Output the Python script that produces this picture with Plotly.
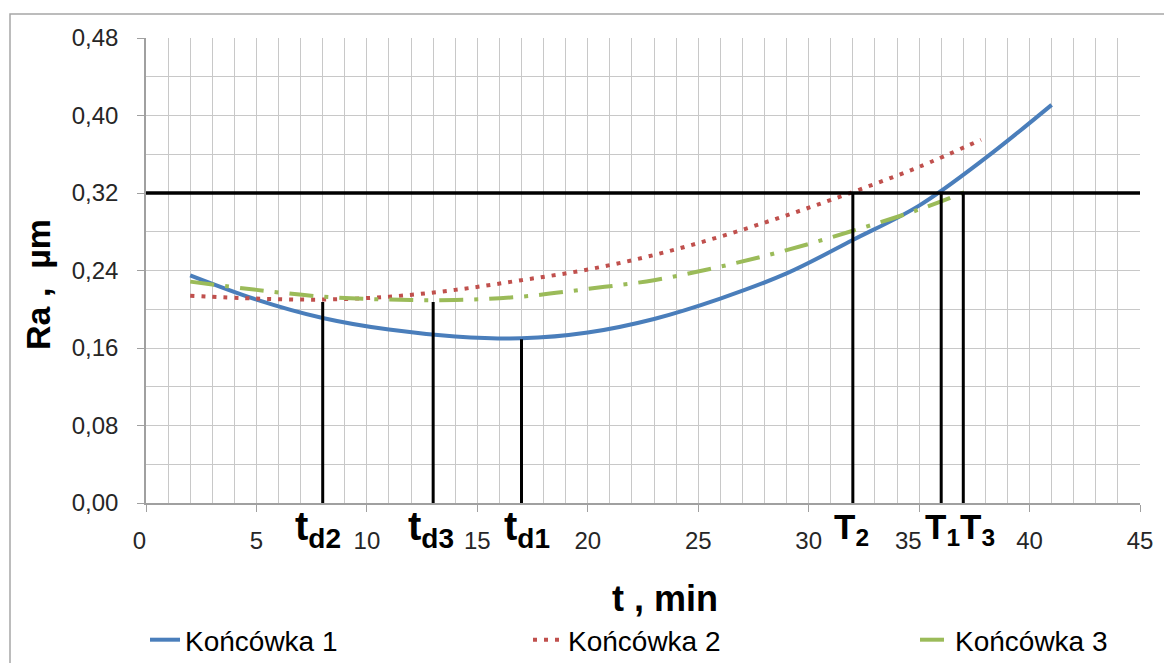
import plotly.graph_objects as go

# ---- data ----
t1 = [2, 5, 8, 11, 14, 17, 20, 23, 26, 29, 32, 35, 38, 41]
ra1 = [0.235, 0.210, 0.191, 0.179, 0.172, 0.170, 0.176, 0.190, 0.211, 0.237, 0.2715, 0.307, 0.356, 0.411]

t2 = [2, 5, 8, 11, 14, 17, 20, 23, 26, 29, 32, 35, 37.8]
ra2 = [0.214, 0.211, 0.210, 0.213, 0.220, 0.230, 0.241, 0.256, 0.275, 0.297, 0.321, 0.347, 0.375]

t3 = [2, 5, 8, 11, 14, 17, 20, 23, 26, 29, 32, 35, 37.5]
ra3 = [0.2285, 0.220, 0.213, 0.210, 0.2095, 0.213, 0.221, 0.230, 0.244, 0.261, 0.281, 0.303, 0.325]

series_names = ["Końcówka 1", "Końcówka 2", "Końcówka 3"]

ra_limit = 0.32
marker_t = [8, 13, 17, 32, 36, 37]
marker_top = [0.2075, 0.2075, 0.169, 0.32, 0.32, 0.32]
marker_labels = ["t<sub>d2</sub>", "t<sub>d3</sub>", "t<sub>d1</sub>",
                 "T<sub>2</sub>", "T<sub>1</sub>", "T<sub>3</sub>"]

x_ticks = [0, 5, 10, 15, 20, 25, 30, 35, 40, 45]
y_ticks = [0.00, 0.08, 0.16, 0.24, 0.32, 0.40, 0.48]

FONT = "Liberation Sans, Arial, sans-serif"
NB = "\u00a0"
GRID = "#c8c8c8"

# label pixel offsets / sizes (style only)
label_shift = [-5, -2, 5, -1, 1, 14]
label_size = [40, 40, 40, 35, 35, 35]

fig = go.Figure()

colors = ["#4a7ebb", "#c0504d", "#9bbb59"]
dashes = ["solid", "4px,7px", "24px,11px,4px,11px"]
widths = [4, 4, 4]
legend_ids = ["legend", "legend2", "legend3"]
for xs, ys, nm, c, d, w, lg in zip([t1, t2, t3], [ra1, ra2, ra3], series_names,
                                   colors, dashes, widths, legend_ids):
    fig.add_trace(go.Scatter(x=xs, y=ys, name=nm, mode="lines", legend=lg,
                             line=dict(color=c, width=w, dash=d, shape="spline")))

# horizontal limit line
fig.add_shape(type="line", xref="x", yref="y", x0=0, x1=45, y0=ra_limit, y1=ra_limit,
              line=dict(color="black", width=3.5), layer="above")
# vertical marker lines
for xv, top in zip(marker_t, marker_top):
    fig.add_shape(type="line", xref="x", yref="y", x0=xv, x1=xv, y0=0, y1=top,
                  line=dict(color="black", width=3), layer="above")

for xv, lab, sh, sz in zip(marker_t, marker_labels, label_shift, label_size):
    fig.add_annotation(x=xv, y=0, xref="x", yref="y", text="<b>" + lab + "</b>",
                       showarrow=False, xshift=sh, yshift=-26,
                       xanchor="center", yanchor="middle",
                       font=dict(family=FONT, size=sz, color="black"))

# x tick label "35" (drawn slightly left, as in the reference)
x_text = [str(v) for v in x_ticks]
i35 = x_ticks.index(35)
fig.add_annotation(x=x_ticks[i35], y=0, xref="x", yref="y", text=x_text[i35],
                   showarrow=False, xshift=-11, yshift=-23, borderpad=0,
                   xanchor="center", yanchor="top",
                   font=dict(family=FONT, size=24, color="#262626"))
x_text[i35] = ""
x_text[x_ticks.index(0)] = "0" + NB * 2

# axis titles
fig.add_annotation(x=(38 - 146) / 994, y=(503 - 285) / 465, xref="paper", yref="paper",
                   text="<b>Ra ," + NB + " µm</b>", textangle=-90, showarrow=False,
                   xanchor="center", yanchor="middle",
                   font=dict(family=FONT, size=34, color="black"))
fig.add_annotation(x=(665 - 146) / 994, y=(503 - 598) / 465, xref="paper", yref="paper",
                   text="<b>t , min</b>", showarrow=False,
                   xanchor="center", yanchor="middle",
                   font=dict(family=FONT, size=36, color="black"))

# outer chart border
fig.add_shape(type="rect", xref="paper", yref="paper",
              x0=(10 - 146) / 994, x1=(1200 - 146) / 994,
              y0=(503 - 700) / 465, y1=(503 - 14) / 465,
              line=dict(color="#a6a6a6", width=1.5), fillcolor="rgba(0,0,0,0)", layer="below")

leg_common = dict(orientation="h", xref="container", yref="container",
                  xanchor="left", yanchor="middle", y=(663 - 640) / 663,
                  font=dict(family=FONT, size=28, color="black"),
                  bgcolor="rgba(0,0,0,0)")

fig.update_layout(
    width=1164, height=663,
    margin=dict(l=146, r=24, t=38, b=160, autoexpand=False),
    paper_bgcolor="white", plot_bgcolor="white",
    separators=", ",
    font=dict(family=FONT, size=24, color="#262626"),
    showlegend=True,
    legend=dict(leg_common, x=145 / 1164),
    legend2=dict(leg_common, x=528 / 1164),
    legend3=dict(leg_common, x=915 / 1164),
)

fig.update_xaxes(range=[0, 45], tickvals=x_ticks, ticktext=x_text, ticks="outside", ticklen=7,
                 tickcolor="#a0a0a0", showline=True, linecolor="#a0a0a0", linewidth=1.5,
                 showgrid=True, gridcolor=GRID, gridwidth=1.3,
                 minor=dict(dtick=1, showgrid=True, gridcolor=GRID, gridwidth=1.3),
                 zeroline=False, ticklabelstandoff=8,
                 tickfont=dict(family=FONT, size=24, color="#262626"))
fig.update_yaxes(range=[0, 0.48], tickvals=y_ticks, tickformat=".2f", ticks="outside", ticklen=7,
                 tickcolor="#a0a0a0", showline=True, linecolor="#a0a0a0", linewidth=1.5,
                 showgrid=True, gridcolor=GRID, gridwidth=1.3,
                 minor=dict(dtick=0.04, showgrid=True, gridcolor=GRID, gridwidth=1.3),
                 zeroline=False, ticklabelstandoff=14,
                 tickfont=dict(family=FONT, size=24, color="#262626"))

fig.write_html("out.html", config={"displayModeBar": False},
               post_script="document.body.style.margin='0';document.body.style.overflow='hidden';")
